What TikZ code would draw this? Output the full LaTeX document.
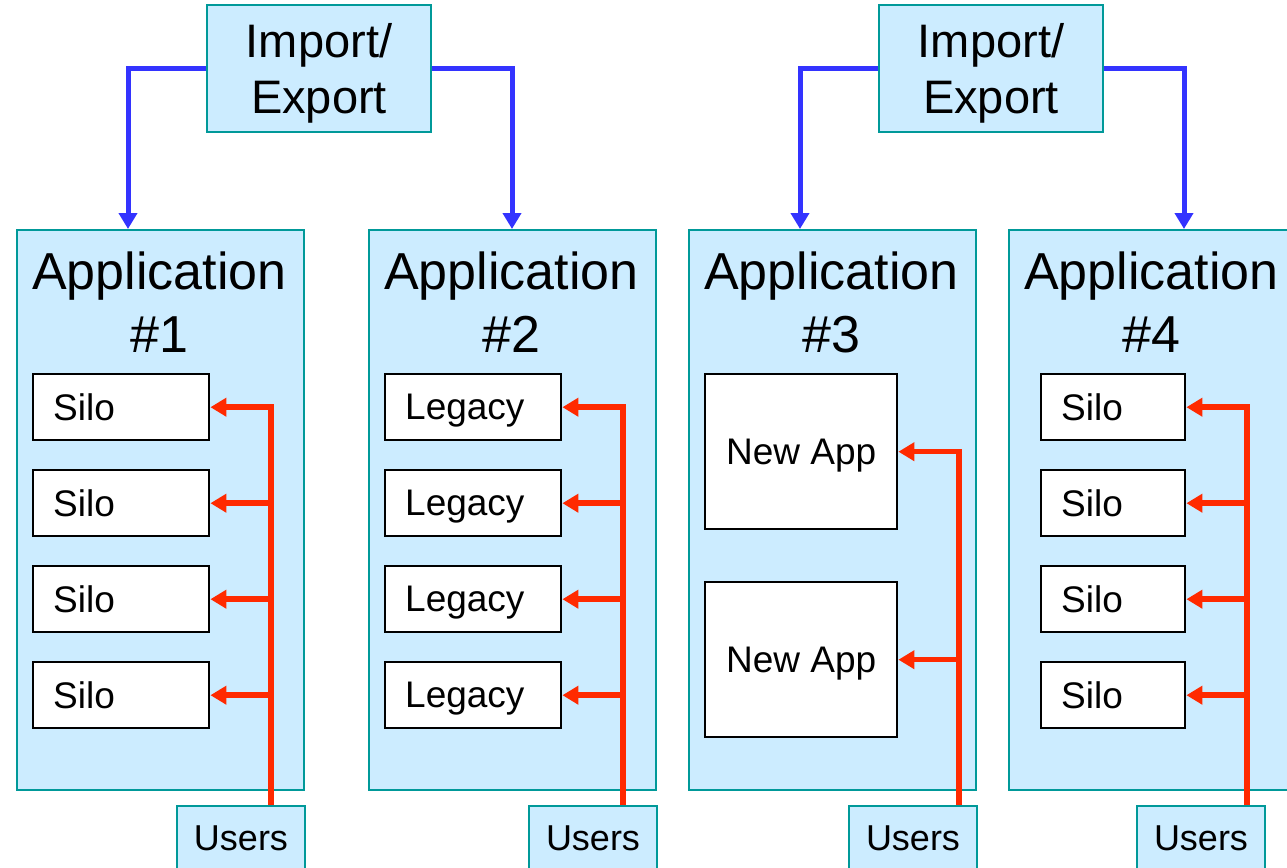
\documentclass[tikz,border=0pt]{standalone}
\usepackage{fontspec}
\setmainfont{Liberation Sans}
\usetikzlibrary{arrows.meta}
\definecolor{appfill}{HTML}{CCECFF}
\definecolor{appline}{HTML}{009999}
\definecolor{feedblue}{HTML}{3333FF}
\definecolor{userred}{HTML}{FF2A00}
\begin{document}
\begin{tikzpicture}[x=0.5pt, y=-0.5pt,
  app/.style={draw=appline, fill=appfill, line width=1pt, anchor=north west,
    minimum width=143.5pt, minimum height=280pt},
  apptitle/.style={align=center, inner sep=0pt, font=\fontsize{26}{31.5}\selectfont},
  porter/.style={draw=appline, fill=appfill, line width=1pt, align=center, inner sep=0pt,
    text depth=0pt, minimum width=112pt, minimum height=63.5pt,
    font=\fontsize{23.5}{28}\selectfont},
  unit/.style={draw, fill=white, line width=1.2pt, anchor=north west, minimum height=33pt,
    inner xsep=10pt, text depth=0pt, align=left, font=\fontsize{18.5}{22}\selectfont},
  users/.style={draw=appline, fill=appfill, line width=1pt, anchor=north west,
    minimum width=64pt, minimum height=32pt, font=\fontsize{18}{22}\selectfont},
  feed/.style={draw=feedblue, line width=2.5pt, -{Triangle[length=8pt, width=9pt]}},
  access/.style={draw=userred, line width=2.75pt, -{Triangle[length=8pt, width=9pt]}}]

  \useasboundingbox (0,0) rectangle (1287,868);
  \clip (0,0) rectangle (1287,868);

  % import / export
  \node[porter] (ie1) at (319,68.5) {Import/\\Export};
  \node[porter] (ie2) at (991,68.5) {Import/\\Export};

  % applications
  \node[app] (app1) at (16,229) {};
  \node[app] (app2) at (368,229) {};
  \node[app] (app3) at (688,229) {};
  \node[app] (app4) at (1008,229) {};
  \node[apptitle] (t1) at (159.5,302.5) {Application\\\#1};
  \node[apptitle] (t2) at (511.5,302.5) {Application\\\#2};
  \node[apptitle] (t3) at (831.5,302.5) {Application\\\#3};
  \node[apptitle] (t4) at (1151.5,302.5) {Application\\\#4};

  \node[unit, text width=68pt] (s11) at (32,373) {Silo};
  \node[unit, text width=68pt] (s12) at (32,469) {Silo};
  \node[unit, text width=68pt] (s13) at (32,565) {Silo};
  \node[unit, text width=68pt] (s14) at (32,661) {Silo};

  \node[unit, text width=68pt] (s21) at (384,373) {Legacy};
  \node[unit, text width=68pt] (s22) at (384,469) {Legacy};
  \node[unit, text width=68pt] (s23) at (384,565) {Legacy};
  \node[unit, text width=68pt] (s24) at (384,661) {Legacy};

  \node[unit, minimum width=96pt, minimum height=77.5pt] (s31) at (704,373) {New App};
  \node[unit, minimum width=96pt, minimum height=77.5pt] (s32) at (704,581) {New App};

  \node[unit, text width=52pt] (s41) at (1040,373) {Silo};
  \node[unit, text width=52pt] (s42) at (1040,469) {Silo};
  \node[unit, text width=52pt] (s43) at (1040,565) {Silo};
  \node[unit, text width=52pt] (s44) at (1040,661) {Silo};

  % users
  \node[users] (u1) at (176,805) {Users};
  \node[users] (u2) at (528,805) {Users};
  \node[users] (u3) at (848,805) {Users};
  \node[users] (u4) at (1136,805) {Users};

  % import / export feeds
  \coordinate (d1) at (128,229);
  \coordinate (d2) at (512,229);
  \coordinate (d3) at (800,229);
  \coordinate (d4) at (1184,229);
  \draw[feed] (ie1.west) -| (d1);
  \draw[feed] (ie1.east) -| (d2);
  \draw[feed] (ie2.west) -| (d3);
  \draw[feed] (ie2.east) -| (d4);

  % user access
  \coordinate (k1) at (271,0);
  \coordinate (k2) at (623,0);
  \coordinate (k3) at (959,0);
  \coordinate (k4) at (1247,0);

  \draw[access] (k1 |- u1.north) -- (k1 |- s11.east) -- (s11.east);
  \draw[access] (k1 |- s12.east) -- (s12.east);
  \draw[access] (k1 |- s13.east) -- (s13.east);
  \draw[access] (k1 |- s14.east) -- (s14.east);

  \draw[access] (k2 |- u2.north) -- (k2 |- s21.east) -- (s21.east);
  \draw[access] (k2 |- s22.east) -- (s22.east);
  \draw[access] (k2 |- s23.east) -- (s23.east);
  \draw[access] (k2 |- s24.east) -- (s24.east);

  \draw[access] (k3 |- u3.north) -- (k3 |- s31.east) -- (s31.east);
  \draw[access] (k3 |- s32.east) -- (s32.east);

  \draw[access] (k4 |- u4.north) -- (k4 |- s41.east) -- (s41.east);
  \draw[access] (k4 |- s42.east) -- (s42.east);
  \draw[access] (k4 |- s43.east) -- (s43.east);
  \draw[access] (k4 |- s44.east) -- (s44.east);
\end{tikzpicture}
\end{document}
